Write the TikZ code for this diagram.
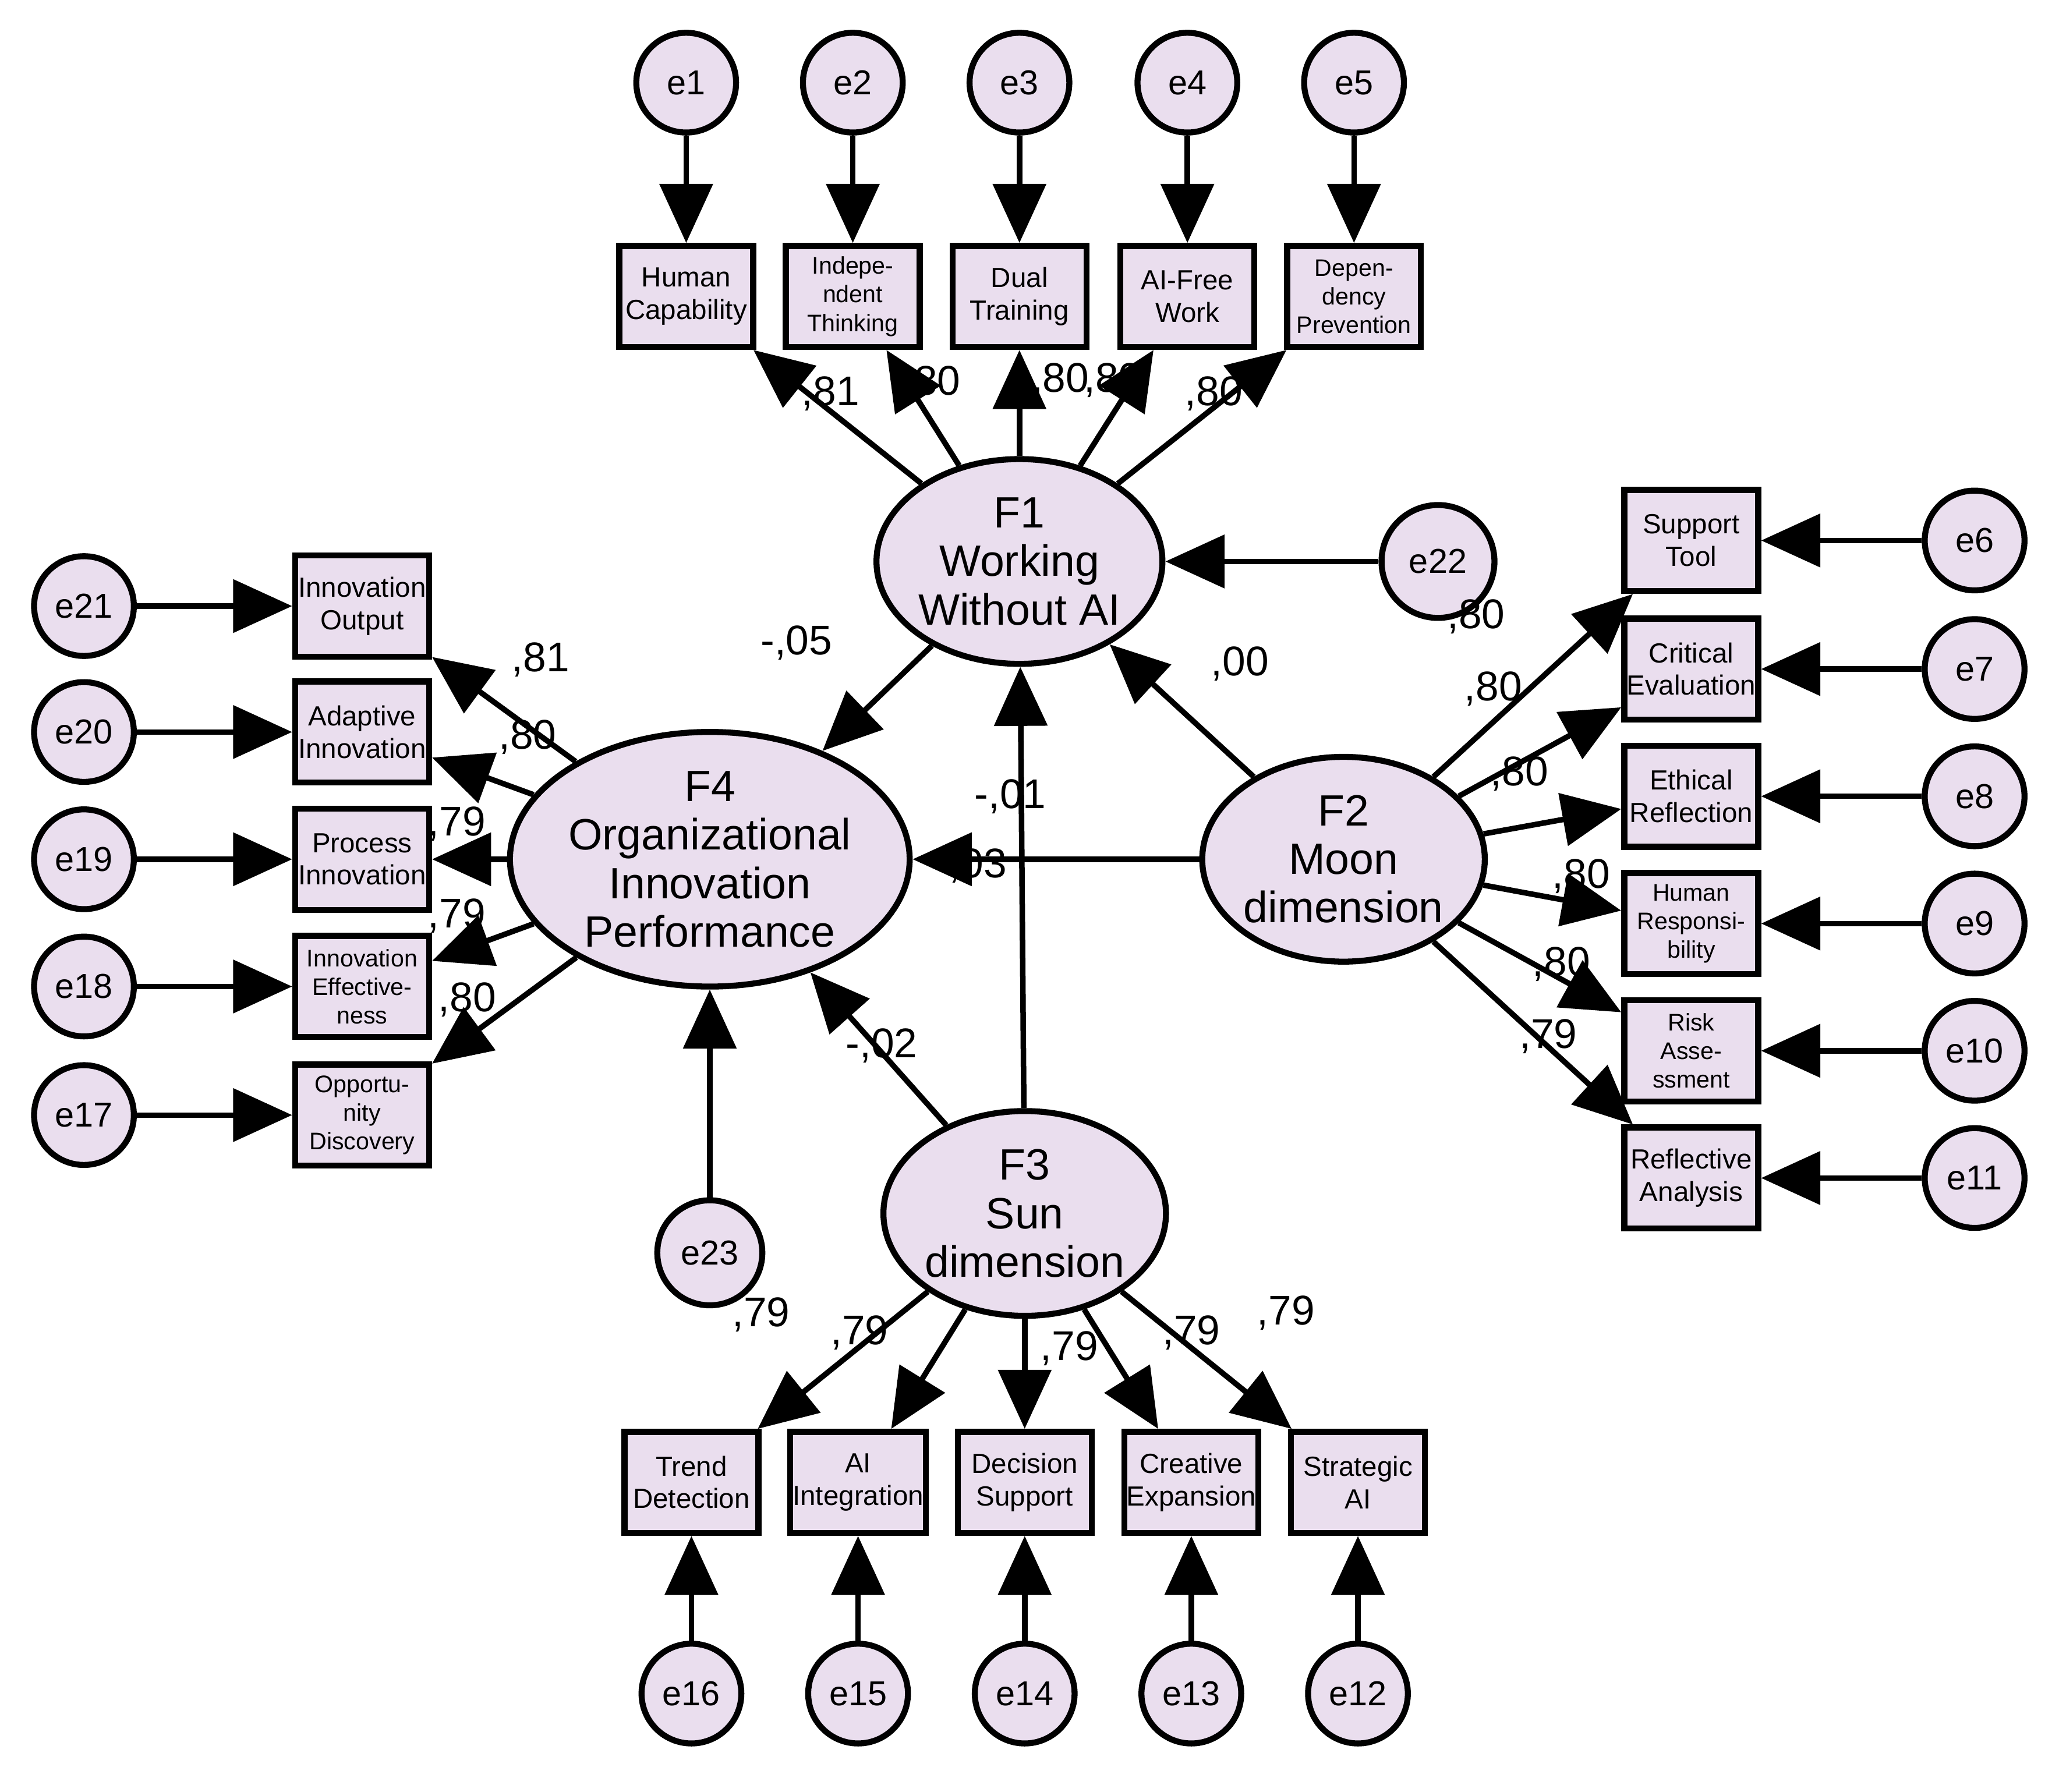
\documentclass[tikz,border=0pt]{standalone}
\usepackage{fontspec}
\setmainfont{Liberation Sans}
\usetikzlibrary{arrows.meta,shapes.geometric}
\definecolor{lav}{RGB}{234,222,238}
\begin{document}
\begin{tikzpicture}[
    x=0.01cm, y=-0.01cm,
    err/.style={circle, draw, line width=1.3pt, fill=lav, minimum size=0.76cm, inner sep=0pt, font=\fontsize{7.5}{8}\selectfont},
    obs/.style={rectangle, draw, line width=1.3pt, fill=lav, minimum width=1.02cm, minimum height=0.77cm, inner sep=0.5pt, align=center, font=\fontsize{6}{7}\selectfont},
    obsthree/.style={obs, font=\fontsize{5.2}{6.2}\selectfont},
    lat/.style={ellipse, draw, line width=1.3pt, fill=lav, minimum width=2.06cm, minimum height=1.56cm, inner sep=0pt, align=center, font=\fontsize{9.5}{10.5}\selectfont},
    reg/.style={line width=1.2pt, -{Triangle[length=0.45cm, width=0.4cm]}},
    coef/.style={font=\fontsize{9}{10}\selectfont, inner sep=0pt}
]
\useasboundingbox (0,0) rectangle (1564,1366);

% Latent factors
\node[lat] (f1) at (777,428) {F1\\Working\\Without AI};
\node[lat] (f2) at (1024,655) {F2\\Moon\\dimension};
\node[lat] (f3) at (781,925) {F3\\Sun\\dimension};
\node[lat, minimum width=2.7cm, minimum height=1.94cm] (f4) at (541,655) {F4\\Organizational\\Innovation\\Performance};
\node[err, minimum size=0.86cm] (e22) at (1096,428) {e22};
\node[err, minimum size=0.8cm] (e23) at (541,955) {e23};

% F1 indicators
\foreach \x/\i/\t/\s in {523/1/{Human\\Capability}/obs, 650/2/{Indepe-\\ndent\\Thinking}/obsthree, 777/3/{Dual\\Training}/obs, 905/4/{AI-Free\\Work}/obs, 1032/5/{Depen-\\dency\\Prevention}/obsthree} {
  \node[err] (e\i) at (\x,63) {e\i};
  \node[\s] (v\i) at (\x,226) {\t};
  \draw[reg] (e\i) -- (v\i);
  \draw[reg] (f1) -- (v\i);
}

% F2 indicators
\foreach \y/\i/\t/\s in {412/6/{Support\\Tool}/obs, 510/7/{Critical\\Evaluation}/obs, 607/8/{Ethical\\Reflection}/obs, 704/9/{Human\\Responsi-\\bility}/obsthree, 801/10/{Risk\\Asse-\\ssment}/obsthree, 898/11/{Reflective\\Analysis}/obs} {
  \node[err] (e\i) at (1505,\y) {e\i};
  \node[\s] (v\i) at (1289,\y) {\t};
  \draw[reg] (e\i) -- (v\i);
  \draw[reg] (f2) -- (v\i);
}

% F4 indicators
\foreach \y/\i/\t/\s in {462/21/{Innovation\\Output}/obs, 558/20/{Adaptive\\Innovation}/obs, 655/19/{Process\\Innovation}/obs, 752/18/{Innovation\\Effective-\\ness}/obsthree, 850/17/{Opportu-\\nity\\Discovery}/obsthree} {
  \node[err] (e\i) at (64,\y) {e\i};
  \node[\s] (v\i) at (276,\y) {\t};
  \draw[reg] (e\i) -- (v\i);
  \draw[reg] (f4) -- (v\i);
}

% F3 indicators
\foreach \x/\i/\t in {527/16/{Trend\\Detection}, 654/15/{AI\\Integration}, 781/14/{Decision\\Support}, 908/13/{Creative\\Expansion}, 1035/12/{Strategic\\AI}} {
  \node[err] (e\i) at (\x,1291) {e\i};
  \node[obs] (v\i) at (\x,1130) {\t};
  \draw[reg] (e\i) -- (v\i);
  \draw[reg] (f3) -- (v\i);
}

% Structural paths
\draw[reg] (e22) -- (f1);
\draw[reg] (e23) -- (f4);
\draw[reg] (f2) -- (f1);
\draw[reg] (f3) -- (f1);
\draw[reg] (f1) -- (f4);
\draw[reg] (f2) -- (f4);
\draw[reg] (f3) -- (f4);

% Coefficients
\foreach \x/\y/\t [count=\n] in {633/300/{,81}, 710/292/{,80}, 808/290/{,80}, 848/290/{,80}, 925/300/{,80},
  1125/470/{,80}, 1138/525/{,80}, 1158/590/{,80}, 1205/668/{,80}, 1190/735/{,80}, 1180/790/{,79},
  412/503/{,81}, 402/562/{,80}, 348/628/{,79}, 348/698/{,79}, 356/762/{,80},
  580/1002/{,79}, 655/1016/{,79}, 815/1028/{,79}, 908/1016/{,79}, 980/1001/{,79},
  607/490/{-,05}, 945/506/{,00}, 770/607/{-,01}, 740/660/{-,03}, 672/797/{-,02}} {
  \node[coef] (c\n) at (\x,\y) {\t};
}
\end{tikzpicture}
\end{document}
